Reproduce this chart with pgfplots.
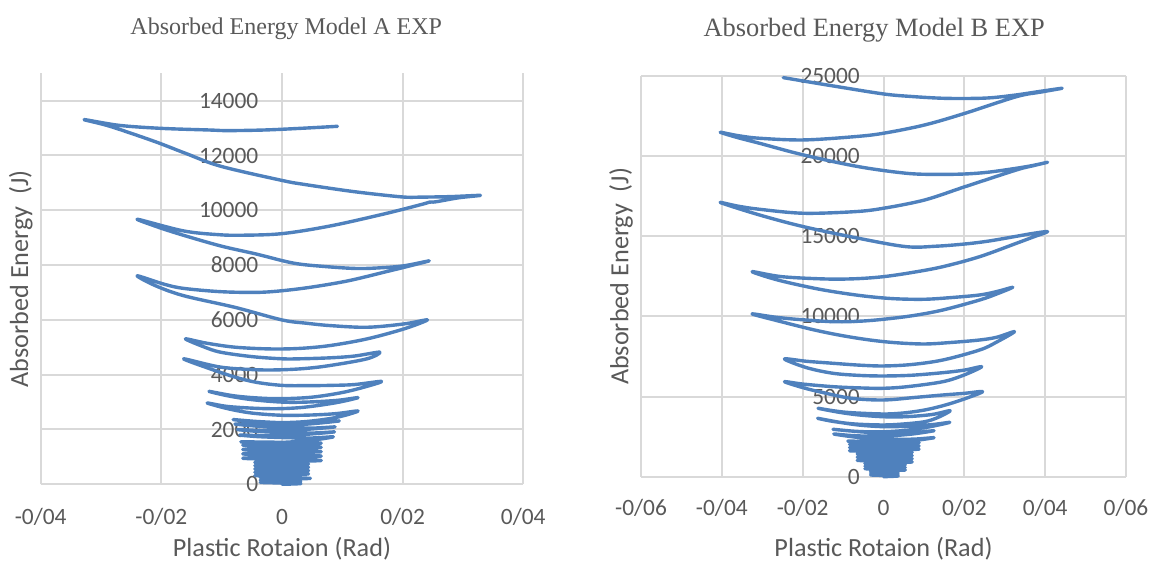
\documentclass[border=0pt]{standalone}
\usepackage{pgfplots}
\pgfplotsset{compat=1.18}
\usepackage{fontspec}
\setmainfont{Carlito}
\newfontfamily\titlefont{Liberation Serif}
\definecolor{txt}{HTML}{595959}
\definecolor{gridc}{HTML}{D9D9D9}
\definecolor{series}{HTML}{4F81BD}

\pgfplotsset{
  energy/.style={
    scale only axis, anchor=south west, clip=false, scaled ticks=false,
    axis line style={draw=none}, major tick length=0pt,
    grid=major, major grid style={draw=gridc, line width=1pt},
    tick label style={font=\fontsize{11.7}{14}\selectfont, text=txt},
    yticklabel style={anchor=east, inner sep=0pt},
    xticklabel style={anchor=base, inner sep=0pt},
    label style={font=\fontsize{13.1}{15}\selectfont, text=txt},
    xlabel={Plastic Rotaion (Rad)},
    ylabel={Absorbed Energy~~(J)},
    xlabel style={at={(0.5,0)}, anchor=base},
    ylabel style={at={(-0.026,0.5)}, anchor=base},
    title style={text=txt, at={(0.5,1)}, anchor=base},
  },
  curve/.style={series, line width=1.7pt, line join=round, line cap=round, smooth, tension=0.55},
}

\begin{document}
\begin{tikzpicture}
\useasboundingbox (0,0) rectangle (576pt,280.5pt);

% ---------------- Model A ----------------
\begin{axis}[energy, at={(20.35pt,38.35pt)}, width=241.3pt, height=205.5pt,
  xmin=-0.04, xmax=0.04, ymin=0, ymax=15000,
  xtick={-0.04,-0.02,0,0.02,0.04}, xticklabels={-0/04,-0/02,0,0/02,0/04},
  ytick={0,2000,4000,6000,8000,10000,12000,14000},
  yticklabels={0,2000,4000,6000,8000,10000,12000,14000},
  xticklabel style={yshift=-19.9pt}, yticklabel style={xshift=109pt},
  xlabel style={yshift=-36.2pt},
  title={Absorbed Energy Model A EXP},
  title style={font=\titlefont\fontsize{12}{14}\selectfont, xshift=2.1pt, yshift=13.15pt}]
\addplot[curve] coordinates {
 (0,0) (0.0031,30) (-0.0036,70) (0.0031,110) (-0.0036,150) (0.0047,217)
 (-0.0036,240) (0.0031,275) (-0.0045,320) (0.0044,380) (-0.0045,440)
 (0.0044,500) (-0.0045,560) (0.0044,620) (-0.0045,680) (0.0044,740)
 (-0.0045,800) (0.0065,870) (-0.0065,950) (0.0065,1030) (-0.0065,1110)
 (0.0065,1190) (-0.0065,1270) (0.0065,1350) (-0.0065,1430) (0.0065,1500)
 (-0.0065,1550)
 (-0.003,1520) (0.001,1540) (0.005,1610) (0.0085,1732)
 (0.005,1690) (0.001,1700) (-0.004,1740) (-0.0070,1800)
 (-0.003,1770) (0.001,1790) (0.005,1840) (0.0087,1913)
 (0.005,1870) (0.001,1880) (-0.004,1930) (-0.0074,2000)
 (-0.003,1960) (0.001,1970) (0.005,2020) (0.0088,2095)
 (0.005,2050) (0.001,2060) (-0.004,2120) (-0.0078,2200)
 (-0.003,2150) (0.001,2160) (0.005,2210) (0.0095,2313)
 (0.005,2240) (0.001,2240) (-0.004,2290) (-0.0081,2362)
 (-0.004,2270) (0,2250) (0.004,2290) (0.008,2400) (0.0105,2520) (0.0126,2677)
 (0.009,2580) (0.005,2530) (0,2519) (-0.005,2600) (-0.009,2760) (-0.0124,2968)
 (-0.009,2840) (-0.004,2770) (0,2762) (0.004,2820) (0.009,2980) (0.0126,3162)
 (0.009,3060) (0.004,3000) (0,3000) (-0.005,3090) (-0.009,3230) (-0.0121,3392)
 (-0.008,3230) (-0.004,3150) (0,3125) (0.005,3180) (0.010,3350) (0.014,3570) (0.0165,3756)
 (0.012,3640) (0.008,3610) (0.004,3600) (0,3610) (-0.0042,3720) (-0.0078,3913) (-0.012,4220) (-0.0163,4580)
 (-0.0102,4277) (-0.0042,4180) (0,4180) (0.004,4230) (0.008,4337) (0.0141,4580) (0.0162,4822)
 (0.012,4680) (0.008,4616) (0.003,4580) (0,4580) (-0.005,4660) (-0.0102,4822) (-0.013,5020) (-0.016,5307)
 (-0.0125,5150) (-0.0078,5004) (-0.002,4940) (0.003,4960) (0.008,5065) (0.0141,5307) (0.0202,5670) (0.0241,6000)
 (0.0202,5852) (0.0141,5731) (0.008,5792) (0.004,5880) (0,5998) (-0.0078,6458) (-0.0163,6883) (-0.021,7250) (-0.024,7610)
 (-0.0195,7300) (-0.0163,7150) (-0.0102,7030) (-0.0042,7004) (0,7064) (0.005,7200) (0.011,7428) (0.0171,7750) (0.021,7960) (0.0244,8155)
 (0.0202,7974) (0.0162,7900) (0.0123,7876) (0.007,7950) (0.0019,8072) (-0.0042,8400) (-0.0102,8701) (-0.0169,9126) (-0.021,9420) (-0.0239,9671)
 (-0.0163,9246) (-0.0105,9110) (-0.0066,9090) (0,9148) (0.008,9428) (0.0171,9876) (0.0232,10217) (0.0245,10300) (0.0255,10310) (0.0293,10457) (0.0329,10545)
 (0.0280,10500) (0.0230,10480) (0.0202,10483) (0.0150,10600) (0.0104,10726) (0.0037,10944) (0,11090) (-0.0102,11610) (-0.0160,12080) (-0.0212,12519) (-0.0285,13064) (-0.0328,13310)
 (-0.027,13100) (-0.020,12990) (-0.012,12930) (-0.009,12908) (-0.003,12930) (0.003,12990) (0.0092,13065)
};
\end{axis}

% ---------------- Model B ----------------
\begin{axis}[energy, at={(320.5pt,42.15pt)}, width=242.5pt, height=200.35pt,
  xmin=-0.06, xmax=0.06, ymin=0, ymax=25000,
  xtick={-0.06,-0.04,-0.02,0,0.02,0.04,0.06},
  xticklabels={-0/06,-0/04,-0/02,0,0/02,0/04,0/06},
  ytick={0,5000,10000,15000,20000,25000},
  yticklabels={0,5000,10000,15000,20000,25000},
  xticklabel style={yshift=-19.5pt}, yticklabel style={xshift=109.6pt},
  xlabel style={yshift=-40pt},
  title={Absorbed Energy Model B EXP},
  title style={font=\titlefont\fontsize{13.2}{15}\selectfont, xshift=-4.65pt, yshift=13.7pt}]
\addplot[curve] coordinates {
 (0,0) (0.0036,50) (-0.0032,110) (0.0036,170) (-0.0032,230) (0.0036,290) (-0.0032,340)
 (0.0054,420) (-0.0046,500) (0.0054,580) (-0.0046,660) (0.0054,740) (-0.0046,820)
 (0.0071,920) (-0.0065,1020) (0.0071,1120) (-0.0065,1220) (0.0071,1320) (-0.0065,1420) (0.0071,1520)
 (-0.0084,1620) (0.0088,1720) (-0.0084,1820) (0.0088,1920) (-0.0084,2020) (0.0088,2120) (-0.0084,2220)
 (-0.004,2180) (0,2170) (0.004,2200) (0.008,2270) (0.0125,2434)
 (0.008,2350) (0.004,2330) (0,2340) (-0.004,2400) (-0.008,2500) (-0.0123,2664)
 (-0.008,2570) (-0.004,2530) (0,2540) (0.004,2590) (0.008,2690) (0.0125,2870)
 (0.008,2760) (0.004,2720) (0,2720) (-0.004,2770) (-0.008,2850) (-0.0125,2958)
 (-0.008,2850) (-0.004,2800) (0,2800) (0.005,2880) (0.010,3050) (0.0135,3220) (0.0164,3394)
 (0.012,3250) (0.006,3150) (0,3120) (-0.006,3220) (-0.011,3400) (-0.0163,3644)
 (-0.0125,3450) (-0.0071,3288) (0,3226) (0.005,3290) (0.0102,3432) (0.0135,3700) (0.0165,4120)
 (0.012,3880) (0.0056,3744) (0,3740) (-0.006,3850) (-0.011,4020) (-0.0162,4268)
 (-0.012,4100) (-0.008,3994) (0,3912) (0.0051,3980) (0.0102,4162) (0.015,4450) (0.020,4850) (0.0245,5304)
 (0.0200,5200) (0.0147,5098) (0.008,4950) (0,4786) (-0.008,4892) (-0.015,5250) (-0.020,5560) (-0.0245,5928)
 (-0.020,5780) (-0.0125,5616) (-0.006,5540) (0,5516) (0.006,5620) (0.0147,5928) (0.020,6350) (0.0243,6864)
 (0.020,6650) (0.0147,6490) (0.007,6330) (0,6284) (-0.006,6320) (-0.0125,6452) (-0.019,6800) (-0.0245,7344)
 (-0.019,7200) (-0.0125,7076) (-0.006,6960) (0,6908) (0.007,7000) (0.0147,7282) (0.0238,7906) (0.028,8400) (0.0324,9048)
 (0.028,8700) (0.0238,8530) (0.0170,8380) (0.0102,8280) (0.003,8360) (-0.0034,8530) (-0.0102,8800) (-0.0171,9154) (-0.025,9650) (-0.0325,10152)
 (-0.0270,9960) (-0.0216,9822) (-0.0125,9672) (-0.006,9700) (0,9822) (0.0073,10050) (0.0147,10402) (0.0238,11026) (0.028,11400) (0.032,11818)
 (0.028,11550) (0.0238,11338) (0.0170,11180) (0.0102,11070) (0.003,11100) (-0.0034,11232) (-0.0100,11450) (-0.0171,11756) (-0.0262,12274) (-0.0325,12792)
 (-0.0252,12480) (-0.0144,12336) (-0.007,12350) (0,12480) (0.0073,12750) (0.0147,13104) (0.0238,13728) (0.0329,14564) (0.037,14950) (0.0406,15288)
 (0.0370,15180) (0.0329,15000) (0.0260,14700) (0.0202,14520) (0.013,14380) (0.0056,14352) (-0.0062,14876) (-0.0198,15600) (-0.0307,16330) (-0.0403,17098)
 (-0.0360,16880) (-0.0307,16685) (-0.0198,16436) (-0.0071,16536) (0,16748) (0.0102,17266) (0.0202,18096) (0.0329,19138) (0.037,19400) (0.0406,19618)
 (0.037,19420) (0.0329,19244) (0.0260,19000) (0.0202,18888) (0.0130,18860) (0.0056,18932) (-0.0062,19344) (-0.0198,20074) (-0.0307,20804) (-0.036,21150) (-0.0404,21490)
 (-0.0360,21280) (-0.0307,21116) (-0.0198,21010) (-0.0071,21216) (0,21428) (0.0102,21946) (0.0202,22676) (0.0329,23712) (0.039,24000) (0.0442,24235)
 (0.039,24050) (0.0329,23820) (0.027,23650) (0.022,23600) (0.0147,23610) (0.007,23720) (0,23880) (-0.0125,24380) (-0.0248,24898)
};
\end{axis}
\end{tikzpicture}
\end{document}
